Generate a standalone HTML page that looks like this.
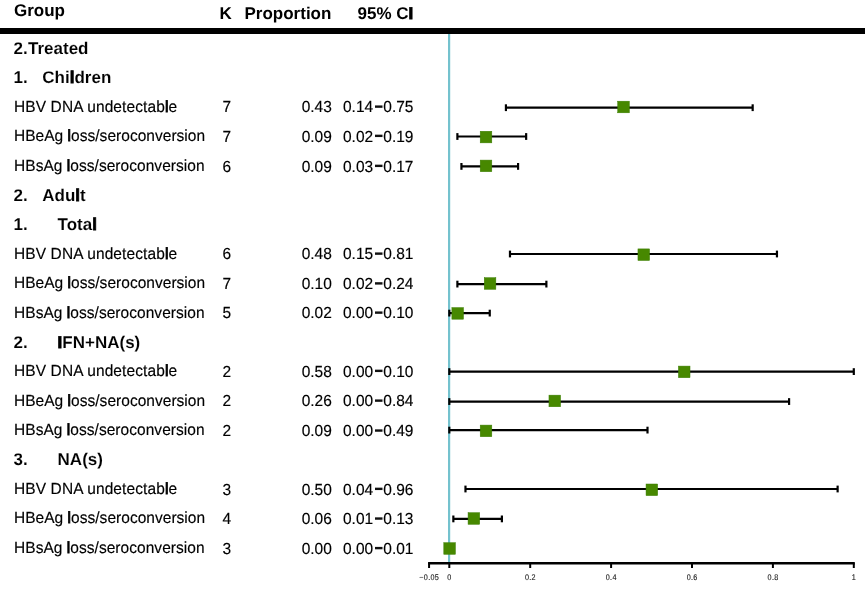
<!DOCTYPE html>
<html><head><meta charset="utf-8"><style>
html,body{margin:0;padding:0;background:#fff;width:865px;height:589px;overflow:hidden}
svg{display:block;will-change:transform}

text{font-family:"Liberation Sans",sans-serif;text-rendering:geometricPrecision}
.b{font-size:17.0px;font-weight:bold;fill:#000}
.s{font-size:17.0px;font-weight:bold;fill:#000;stroke:#fff;stroke-width:0.1px}
.n{font-size:15.5px;fill:#000;stroke:#000;stroke-width:0.15px}
.g{stroke:#000;stroke-width:0.8px}
.t{font-size:7.2px;fill:#222;stroke:#222;stroke-width:0.12px}
</style></head><body>
<svg width="865" height="589" viewBox="0 0 865 589">
<g><rect x="0" y="0" width="865" height="589" fill="#fff"/>
<text x="14.00" y="15.60" class="b">Group</text>
<text x="219.50" y="19.00" class="b">K</text>
<text x="244.50" y="19.00" class="b">Proportion</text>
<text x="357.50" y="19.00" class="b">95% C<tspan class="g">I</tspan></text>
<rect x="0" y="28" width="865" height="6" fill="#000"/>
<rect x="448.00" y="34" width="2.2" height="529" fill="#74c2ce"/>
<text x="13.50" y="53.68" class="s">2.</text>
<text x="28.00" y="53.68" class="s">Treated</text>
<text x="13.50" y="83.09" class="s">1.</text>
<text x="42.30" y="83.09" class="s">Chi<tspan class="g">l</tspan>dren</text>
<text transform="translate(14.00 111.77) scale(1 1.04)" class="n" textLength="163.1" lengthAdjust="spacing">HBV DNA undetectab<tspan class="g">l</tspan>e</text>
<text transform="translate(222.50 112.43) scale(1 1.04)" class="n">7</text>
<text transform="translate(331.80 112.43) scale(1 1.04)" class="n" text-anchor="end">0.43</text>
<text transform="translate(343.00 112.43) scale(1 1.04)" class="n">0.14</text>
<text transform="translate(383.30 112.43) scale(1 1.04)" class="n">0.75</text>
<rect x="375" y="105.43" width="7.5" height="2.4" fill="#111"/>
<line x1="505.93" y1="107.70" x2="752.67" y2="107.70" stroke="#000" stroke-width="2.2"/>
<line x1="505.93" y1="104.30" x2="505.93" y2="111.10" stroke="#000" stroke-width="2.2"/>
<line x1="752.67" y1="104.30" x2="752.67" y2="111.10" stroke="#000" stroke-width="2.2"/>
<rect x="617.74" y="101.20" width="11.6" height="11.6" fill="#478800" stroke="#3a7e00" stroke-width="0.5"/>
<text transform="translate(14.00 140.54) scale(1 1.04)" class="n" textLength="191.1" lengthAdjust="spacing">HBeAg <tspan class="g">l</tspan>oss/seroconversion</text>
<text transform="translate(222.50 141.66) scale(1 1.04)" class="n">7</text>
<text transform="translate(331.80 141.66) scale(1 1.04)" class="n" text-anchor="end">0.09</text>
<text transform="translate(343.00 141.66) scale(1 1.04)" class="n">0.02</text>
<text transform="translate(383.30 141.66) scale(1 1.04)" class="n">0.19</text>
<rect x="375" y="134.66" width="7.5" height="2.4" fill="#111"/>
<line x1="457.39" y1="136.50" x2="526.15" y2="136.50" stroke="#000" stroke-width="2.2"/>
<line x1="457.39" y1="133.10" x2="457.39" y2="139.90" stroke="#000" stroke-width="2.2"/>
<line x1="526.15" y1="133.10" x2="526.15" y2="139.90" stroke="#000" stroke-width="2.2"/>
<rect x="480.21" y="131.25" width="11.6" height="11.6" fill="#478800" stroke="#3a7e00" stroke-width="0.5"/>
<text transform="translate(14.00 171.24) scale(1 1.04)" class="n" textLength="190.6" lengthAdjust="spacing">HBsAg <tspan class="g">l</tspan>oss/seroconversion</text>
<text transform="translate(222.50 171.66) scale(1 1.04)" class="n">6</text>
<text transform="translate(331.80 171.66) scale(1 1.04)" class="n" text-anchor="end">0.09</text>
<text transform="translate(343.00 171.66) scale(1 1.04)" class="n">0.03</text>
<text transform="translate(383.30 171.66) scale(1 1.04)" class="n">0.17</text>
<rect x="375" y="164.66" width="7.5" height="2.4" fill="#111"/>
<line x1="461.44" y1="166.40" x2="518.07" y2="166.40" stroke="#000" stroke-width="2.2"/>
<line x1="461.44" y1="163.00" x2="461.44" y2="169.80" stroke="#000" stroke-width="2.2"/>
<line x1="518.07" y1="163.00" x2="518.07" y2="169.80" stroke="#000" stroke-width="2.2"/>
<rect x="480.21" y="160.10" width="11.6" height="11.6" fill="#478800" stroke="#3a7e00" stroke-width="0.5"/>
<text x="13.50" y="200.73" class="s">2.</text>
<text x="42.30" y="200.73" class="s">Adu<tspan class="g">l</tspan>t</text>
<text x="13.50" y="230.14" class="s">1.</text>
<text x="57.60" y="230.14" class="s">Tota<tspan class="g">l</tspan></text>
<text transform="translate(14.00 258.77) scale(1 1.04)" class="n" textLength="163.1" lengthAdjust="spacing">HBV DNA undetectab<tspan class="g">l</tspan>e</text>
<text transform="translate(222.50 259.43) scale(1 1.04)" class="n">6</text>
<text transform="translate(331.80 259.43) scale(1 1.04)" class="n" text-anchor="end">0.48</text>
<text transform="translate(343.00 259.43) scale(1 1.04)" class="n">0.15</text>
<text transform="translate(383.30 259.43) scale(1 1.04)" class="n">0.81</text>
<rect x="375" y="252.43" width="7.5" height="2.4" fill="#111"/>
<line x1="509.98" y1="254.00" x2="776.95" y2="254.00" stroke="#000" stroke-width="2.2"/>
<line x1="509.98" y1="250.60" x2="509.98" y2="257.40" stroke="#000" stroke-width="2.2"/>
<line x1="776.95" y1="250.60" x2="776.95" y2="257.40" stroke="#000" stroke-width="2.2"/>
<rect x="637.96" y="248.90" width="11.6" height="11.6" fill="#478800" stroke="#3a7e00" stroke-width="0.5"/>
<text transform="translate(14.00 288.08) scale(1 1.04)" class="n" textLength="191.1" lengthAdjust="spacing">HBeAg <tspan class="g">l</tspan>oss/seroconversion</text>
<text transform="translate(222.50 289.20) scale(1 1.04)" class="n">7</text>
<text transform="translate(331.80 289.20) scale(1 1.04)" class="n" text-anchor="end">0.10</text>
<text transform="translate(343.00 289.20) scale(1 1.04)" class="n">0.02</text>
<text transform="translate(383.30 289.20) scale(1 1.04)" class="n">0.24</text>
<rect x="375" y="282.20" width="7.5" height="2.4" fill="#111"/>
<line x1="457.39" y1="284.10" x2="546.38" y2="284.10" stroke="#000" stroke-width="2.2"/>
<line x1="457.39" y1="280.70" x2="457.39" y2="287.50" stroke="#000" stroke-width="2.2"/>
<line x1="546.38" y1="280.70" x2="546.38" y2="287.50" stroke="#000" stroke-width="2.2"/>
<rect x="484.25" y="277.70" width="11.6" height="11.6" fill="#478800" stroke="#3a7e00" stroke-width="0.5"/>
<text transform="translate(14.00 318.24) scale(1 1.04)" class="n" textLength="190.6" lengthAdjust="spacing">HBsAg <tspan class="g">l</tspan>oss/seroconversion</text>
<text transform="translate(222.50 318.43) scale(1 1.04)" class="n">5</text>
<text transform="translate(331.80 318.43) scale(1 1.04)" class="n" text-anchor="end">0.02</text>
<text transform="translate(343.00 318.43) scale(1 1.04)" class="n">0.00</text>
<text transform="translate(383.30 318.43) scale(1 1.04)" class="n">0.10</text>
<rect x="375" y="311.43" width="7.5" height="2.4" fill="#111"/>
<line x1="449.30" y1="313.10" x2="489.75" y2="313.10" stroke="#000" stroke-width="2.2"/>
<line x1="449.30" y1="309.70" x2="449.30" y2="316.50" stroke="#000" stroke-width="2.2"/>
<line x1="489.75" y1="309.70" x2="489.75" y2="316.50" stroke="#000" stroke-width="2.2"/>
<rect x="451.89" y="307.60" width="11.6" height="11.6" fill="#478800" stroke="#3a7e00" stroke-width="0.5"/>
<text x="13.50" y="347.78" class="s">2.</text>
<text x="57.60" y="347.78" class="s"><tspan class="g">I</tspan>FN+NA(s)</text>
<text transform="translate(14.00 376.01) scale(1 1.04)" class="n" textLength="163.1" lengthAdjust="spacing">HBV DNA undetectab<tspan class="g">l</tspan>e</text>
<text transform="translate(222.50 376.66) scale(1 1.04)" class="n">2</text>
<text transform="translate(331.80 376.66) scale(1 1.04)" class="n" text-anchor="end">0.58</text>
<text transform="translate(343.00 376.66) scale(1 1.04)" class="n">0.00</text>
<text transform="translate(383.30 376.66) scale(1 1.04)" class="n">0.10</text>
<rect x="375" y="369.66" width="7.5" height="2.4" fill="#111"/>
<line x1="449.30" y1="371.60" x2="853.80" y2="371.60" stroke="#000" stroke-width="2.2"/>
<line x1="449.30" y1="368.20" x2="449.30" y2="375.00" stroke="#000" stroke-width="2.2"/>
<line x1="853.80" y1="368.20" x2="853.80" y2="375.00" stroke="#000" stroke-width="2.2"/>
<rect x="678.41" y="366.10" width="11.6" height="11.6" fill="#478800" stroke="#3a7e00" stroke-width="0.5"/>
<text transform="translate(14.00 405.54) scale(1 1.04)" class="n" textLength="191.1" lengthAdjust="spacing">HBeAg <tspan class="g">l</tspan>oss/seroconversion</text>
<text transform="translate(222.50 406.43) scale(1 1.04)" class="n">2</text>
<text transform="translate(331.80 406.43) scale(1 1.04)" class="n" text-anchor="end">0.26</text>
<text transform="translate(343.00 406.43) scale(1 1.04)" class="n">0.00</text>
<text transform="translate(383.30 406.43) scale(1 1.04)" class="n">0.84</text>
<rect x="375" y="399.43" width="7.5" height="2.4" fill="#111"/>
<line x1="449.30" y1="401.55" x2="789.08" y2="401.55" stroke="#000" stroke-width="2.2"/>
<line x1="449.30" y1="398.15" x2="449.30" y2="404.95" stroke="#000" stroke-width="2.2"/>
<line x1="789.08" y1="398.15" x2="789.08" y2="404.95" stroke="#000" stroke-width="2.2"/>
<rect x="548.97" y="395.15" width="11.6" height="11.6" fill="#478800" stroke="#3a7e00" stroke-width="0.5"/>
<text transform="translate(14.00 435.47) scale(1 1.04)" class="n" textLength="190.6" lengthAdjust="spacing">HBsAg <tspan class="g">l</tspan>oss/seroconversion</text>
<text transform="translate(222.50 436.35) scale(1 1.04)" class="n">2</text>
<text transform="translate(331.80 436.35) scale(1 1.04)" class="n" text-anchor="end">0.09</text>
<text transform="translate(343.00 436.35) scale(1 1.04)" class="n">0.00</text>
<text transform="translate(383.30 436.35) scale(1 1.04)" class="n">0.49</text>
<rect x="375" y="429.35" width="7.5" height="2.4" fill="#111"/>
<line x1="449.30" y1="430.10" x2="647.50" y2="430.10" stroke="#000" stroke-width="2.2"/>
<line x1="449.30" y1="426.70" x2="449.30" y2="433.50" stroke="#000" stroke-width="2.2"/>
<line x1="647.50" y1="426.70" x2="647.50" y2="433.50" stroke="#000" stroke-width="2.2"/>
<rect x="480.21" y="425.10" width="11.6" height="11.6" fill="#478800" stroke="#3a7e00" stroke-width="0.5"/>
<text x="13.50" y="465.42" class="s">3.</text>
<text x="57.60" y="465.42" class="s">NA(s)</text>
<text transform="translate(14.00 493.77) scale(1 1.04)" class="n" textLength="163.1" lengthAdjust="spacing">HBV DNA undetectab<tspan class="g">l</tspan>e</text>
<text transform="translate(222.50 494.66) scale(1 1.04)" class="n">3</text>
<text transform="translate(331.80 494.66) scale(1 1.04)" class="n" text-anchor="end">0.50</text>
<text transform="translate(343.00 494.66) scale(1 1.04)" class="n">0.04</text>
<text transform="translate(383.30 494.66) scale(1 1.04)" class="n">0.96</text>
<rect x="375" y="487.66" width="7.5" height="2.4" fill="#111"/>
<line x1="465.48" y1="489.00" x2="837.62" y2="489.00" stroke="#000" stroke-width="2.2"/>
<line x1="465.48" y1="485.60" x2="465.48" y2="492.40" stroke="#000" stroke-width="2.2"/>
<line x1="837.62" y1="485.60" x2="837.62" y2="492.40" stroke="#000" stroke-width="2.2"/>
<rect x="646.05" y="484.00" width="11.6" height="11.6" fill="#478800" stroke="#3a7e00" stroke-width="0.5"/>
<text transform="translate(14.00 522.54) scale(1 1.04)" class="n" textLength="191.1" lengthAdjust="spacing">HBeAg <tspan class="g">l</tspan>oss/seroconversion</text>
<text transform="translate(222.50 524.35) scale(1 1.04)" class="n">4</text>
<text transform="translate(331.80 524.35) scale(1 1.04)" class="n" text-anchor="end">0.06</text>
<text transform="translate(343.00 524.35) scale(1 1.04)" class="n">0.01</text>
<text transform="translate(383.30 524.35) scale(1 1.04)" class="n">0.13</text>
<rect x="375" y="517.35" width="7.5" height="2.4" fill="#111"/>
<line x1="453.35" y1="518.90" x2="501.88" y2="518.90" stroke="#000" stroke-width="2.2"/>
<line x1="453.35" y1="515.50" x2="453.35" y2="522.30" stroke="#000" stroke-width="2.2"/>
<line x1="501.88" y1="515.50" x2="501.88" y2="522.30" stroke="#000" stroke-width="2.2"/>
<rect x="468.07" y="512.70" width="11.6" height="11.6" fill="#478800" stroke="#3a7e00" stroke-width="0.5"/>
<text transform="translate(14.00 553.24) scale(1 1.04)" class="n" textLength="190.6" lengthAdjust="spacing">HBsAg <tspan class="g">l</tspan>oss/seroconversion</text>
<text transform="translate(222.50 553.90) scale(1 1.04)" class="n">3</text>
<text transform="translate(331.80 553.90) scale(1 1.04)" class="n" text-anchor="end">0.00</text>
<text transform="translate(343.00 553.90) scale(1 1.04)" class="n">0.00</text>
<text transform="translate(383.30 553.90) scale(1 1.04)" class="n">0.01</text>
<rect x="375" y="546.90" width="7.5" height="2.4" fill="#111"/>
<line x1="449.30" y1="548.50" x2="453.35" y2="548.50" stroke="#000" stroke-width="2.2"/>
<line x1="449.30" y1="545.10" x2="449.30" y2="551.90" stroke="#000" stroke-width="2.2"/>
<line x1="453.35" y1="545.10" x2="453.35" y2="551.90" stroke="#000" stroke-width="2.2"/>
<rect x="443.80" y="542.70" width="11.6" height="11.6" fill="#478800" stroke="#3a7e00" stroke-width="0.5"/>
<line x1="428.07" y1="563.2" x2="854.80" y2="563.2" stroke="#000" stroke-width="2.4"/>
<line x1="429.07" y1="563.2" x2="429.07" y2="568.0" stroke="#000" stroke-width="2"/>
<text transform="translate(429.07 580.10) scale(1 1.15)" class="t" text-anchor="middle" textLength="19.6" lengthAdjust="spacing">−0.05</text>
<line x1="449.30" y1="563.2" x2="449.30" y2="568.0" stroke="#000" stroke-width="2"/>
<text transform="translate(449.30 580.10) scale(1 1.15)" class="t" text-anchor="middle">0</text>
<line x1="530.20" y1="563.2" x2="530.20" y2="568.0" stroke="#000" stroke-width="2"/>
<text transform="translate(530.20 580.10) scale(1 1.15)" class="t" text-anchor="middle" textLength="10.6" lengthAdjust="spacing">0.2</text>
<line x1="611.10" y1="563.2" x2="611.10" y2="568.0" stroke="#000" stroke-width="2"/>
<text transform="translate(611.10 580.10) scale(1 1.15)" class="t" text-anchor="middle" textLength="10.6" lengthAdjust="spacing">0.4</text>
<line x1="692.00" y1="563.2" x2="692.00" y2="568.0" stroke="#000" stroke-width="2"/>
<text transform="translate(692.00 580.10) scale(1 1.15)" class="t" text-anchor="middle" textLength="10.6" lengthAdjust="spacing">0.6</text>
<line x1="772.90" y1="563.2" x2="772.90" y2="568.0" stroke="#000" stroke-width="2"/>
<text transform="translate(772.90 580.10) scale(1 1.15)" class="t" text-anchor="middle" textLength="10.6" lengthAdjust="spacing">0.8</text>
<line x1="853.80" y1="563.2" x2="853.80" y2="568.0" stroke="#000" stroke-width="2"/>
<text transform="translate(853.80 580.10) scale(1 1.15)" class="t" text-anchor="middle">1</text>
</g></svg>
</body></html>
